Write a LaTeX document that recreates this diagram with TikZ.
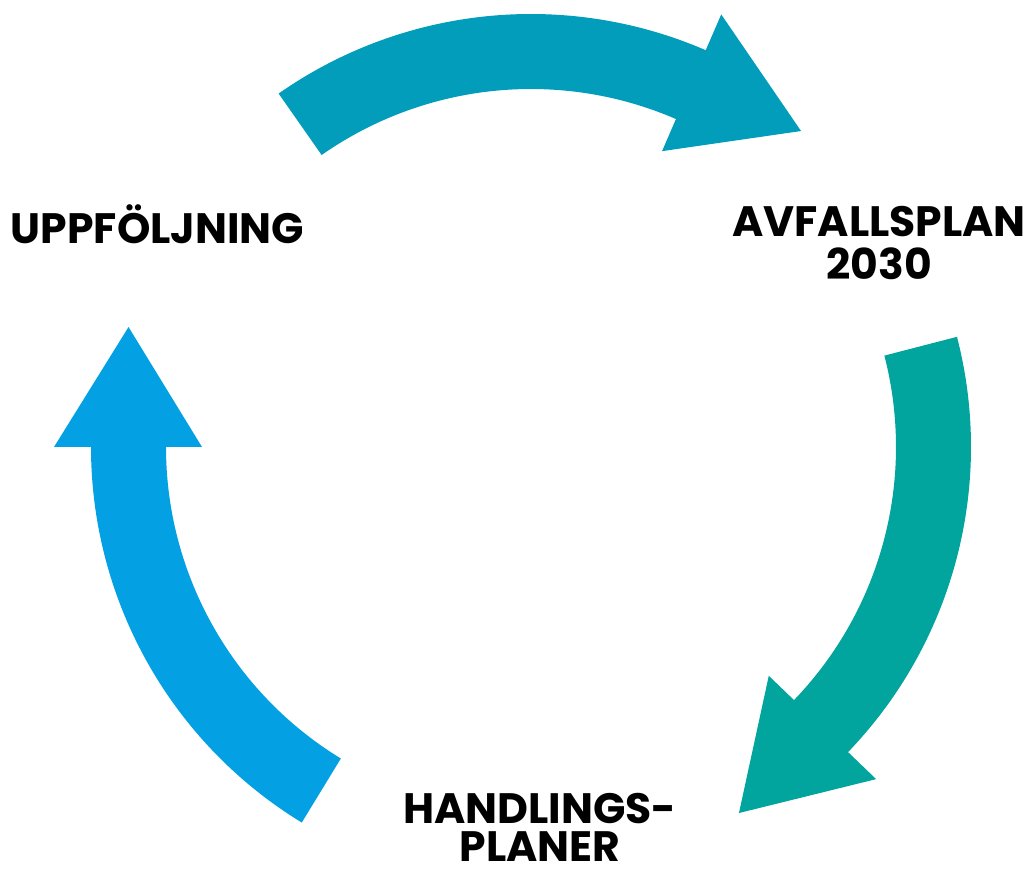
\documentclass[tikz,border=0pt]{standalone}
\usepackage{fontspec}
\setmainfont{Poppins}
\definecolor{topc}{HTML}{029DBB}
\definecolor{rightc}{HTML}{02A59E}
\definecolor{leftc}{HTML}{03A0E3}
\tikzset{
  label/.style={inner sep=0pt, align=center, anchor=base, text=black},
}
\begin{document}
\begin{tikzpicture}[x=1pt,y=1pt]
\useasboundingbox (0,0) rectangle (1030,873);
% top arrow
\begin{scope}[shift={(531,419)}]
\fill[topc] (125:440) arc[start angle=125,end angle=66.6,radius=440pt] -- (66.6:479) -- (50.1:421) -- (66.6:330) -- (66.6:365) arc[start angle=66.6,end angle=125,radius=365pt] -- cycle;
\end{scope}
% right arrow
\begin{scope}[shift={(531,426)}]
\fill[rightc] (14.5:440) arc[start angle=14.5,end angle=-43.9,radius=440pt] -- (-43.9:479) -- (-60.4:421) -- (-43.9:330) -- (-43.9:365) arc[start angle=-43.9,end angle=14.5,radius=365pt] -- cycle;
\end{scope}
% left arrow
\begin{scope}[shift={(531,426)}]
\fill[leftc] (238.6:440) arc[start angle=238.6,end angle=180,radius=440pt] -- (180:477) -- (163.4:420) -- (180:329) -- (180:365) arc[start angle=180,end angle=238.6,radius=365pt] -- cycle;
\end{scope}
\node[label, font=\bfseries\fontsize{42.5}{42}\selectfont] (upp) at (157.5,629) {UPPFÖLJNING};
\node[label, font=\bfseries\fontsize{42.5}{43}\selectfont] (avf) at (879,593) {AVFALLSPLAN\\2030};
\node[label, font=\bfseries\fontsize{42.5}{38}\selectfont] (hand) at (540,12) {HANDLINGS-\\PLANER};
\end{tikzpicture}
\end{document}
